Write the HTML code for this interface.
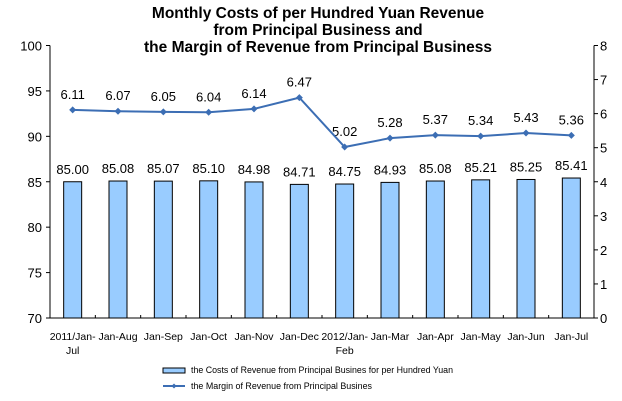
<!DOCTYPE html>
<html><head><style>
body{margin:0;background:#fff;width:622px;height:401px;overflow:hidden}
svg{display:block;font-family:"Liberation Sans",Arial,sans-serif}
</style></head><body>
<svg id="c" width="622" height="401" xmlns="http://www.w3.org/2000/svg">
<text x="318" y="18" text-anchor="middle" font-size="15.5" font-weight="bold">Monthly Costs of per Hundred Yuan Revenue</text>
<text x="318" y="35" text-anchor="middle" font-size="15.5" font-weight="bold">from Principal Business and</text>
<text x="318" y="52" text-anchor="middle" font-size="15.5" font-weight="bold">the Margin of Revenue from Principal Business</text>
<g id="g"></g>
<rect x="163" y="368" width="22" height="5" fill="#99ccff" stroke="#000" stroke-width="1"/>
<text x="191" y="373" font-size="9" textLength="262" lengthAdjust="spacingAndGlyphs">the Costs of Revenue from Principal Busines for per Hundred Yuan</text>
<line x1="163" y1="386" x2="185" y2="386" stroke="#3c6eb4" stroke-width="2"/>
<path d="M174 383.5 L176.5 386 L174 388.5 L171.5 386Z" fill="#3c6eb4"/>
<text x="191" y="389" font-size="9" textLength="181" lengthAdjust="spacingAndGlyphs">the Margin of Revenue from Principal Busines</text>
</svg>
<script>
var g=document.getElementById('g'),s='';
var L=50,R=594,T=45.5,B=318,w=(R-L)/12;
var bars=[85.00,85.08,85.07,85.10,84.98,84.71,84.75,84.93,85.08,85.21,85.25,85.41];
var line=[6.11,6.07,6.05,6.04,6.14,6.47,5.02,5.28,5.37,5.34,5.43,5.36];
var labs=[["2011/Jan-","Jul"],["Jan-Aug"],["Jan-Sep"],["Jan-Oct"],["Jan-Nov"],["Jan-Dec"],["2012/Jan-","Feb"],["Jan-Mar"],["Jan-Apr"],["Jan-May"],["Jan-Jun"],["Jan-Jul"]];
function yl(v){return B-(v-70)*(B-T)/30}
function yr(v){return B-v*(B-T)/8}
s+='<line x1="'+L+'" y1="'+T+'" x2="'+L+'" y2="'+B+'" stroke="#000"/>';
s+='<line x1="'+R+'" y1="'+T+'" x2="'+R+'" y2="'+B+'" stroke="#000"/>';
s+='<line x1="'+L+'" y1="'+B+'" x2="'+R+'" y2="'+B+'" stroke="#000"/>';
for(var i=0;i<=6;i++){var v=70+i*5,y=yl(v);s+='<line x1="'+(L-4)+'" y1="'+y+'" x2="'+L+'" y2="'+y+'" stroke="#000"/><text x="'+(L-8)+'" y="'+(y+5)+'" text-anchor="end" font-size="13">'+v+'</text>';}
for(var i=0;i<=8;i++){var y=yr(i);s+='<line x1="'+R+'" y1="'+y+'" x2="'+(R+4)+'" y2="'+y+'" stroke="#000"/><text x="'+(R+6)+'" y="'+(y+5)+'" font-size="13">'+i+'</text>';}
for(var i=1;i<12;i++){var x=L+i*w;s+='<line x1="'+x+'" y1="'+(B-3)+'" x2="'+x+'" y2="'+B+'" stroke="#000"/>';}
var pts=[];
for(var i=0;i<12;i++){var cx=L+w*(i+0.5),t=yl(bars[i]);
s+='<rect x="'+(cx-9)+'" y="'+t+'" width="18" height="'+(B-t)+'" fill="#99ccff" stroke="#000"/>';
s+='<text x="'+cx+'" y="'+(t-8)+'" text-anchor="middle" font-size="13">'+bars[i].toFixed(2)+'</text>';
var ly=yr(line[i]);pts.push(cx+','+ly);
s+='<text x="'+cx+'" y="'+(ly-11)+'" text-anchor="middle" font-size="13">'+line[i].toFixed(2)+'</text>';
for(var k=0;k<labs[i].length;k++)s+='<text x="'+cx+'" y="'+(340+k*14)+'" text-anchor="middle" font-size="10.5">'+labs[i][k]+'</text>';}
s+='<polyline points="'+pts.join(' ')+'" fill="none" stroke="#3c6eb4" stroke-width="2"/>';
pts.forEach(function(p){var a=p.split(','),x=+a[0],y=+a[1];s+='<path d="M'+x+' '+(y-3.5)+' L'+(x+3.5)+' '+y+' L'+x+' '+(y+3.5)+' L'+(x-3.5)+' '+y+'Z" fill="#3c6eb4"/>';});
g.innerHTML=s;
</script>
</body></html>
